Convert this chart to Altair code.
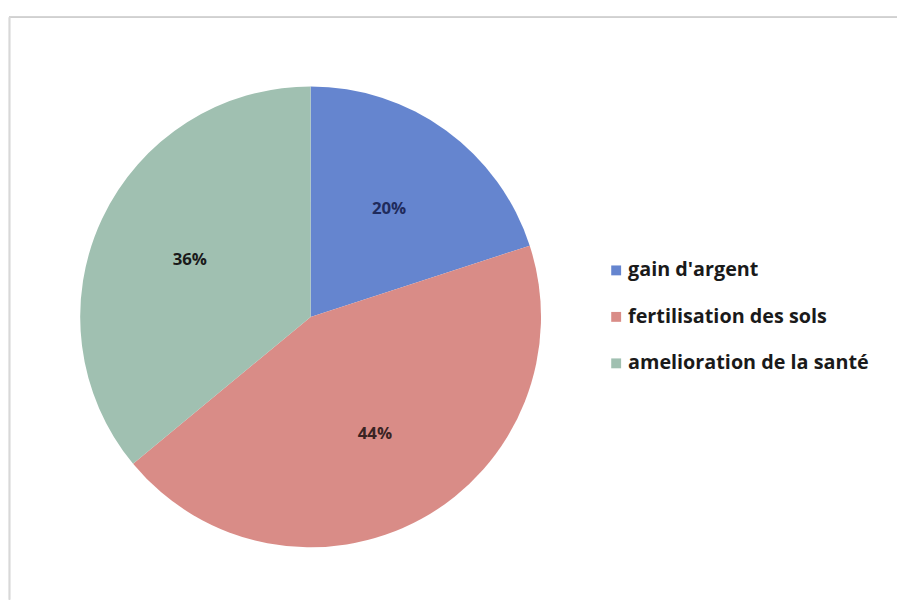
import altair as alt
import pandas as pd

categories = ["gain d'argent", "fertilisation des sols", "amelioration de la santé"]
values = [20, 44, 36]
labels = ["20%", "44%", "36%"]
order = [1, 2, 3]

slice_colors = ["#6585cf", "#d98c87", "#a0c0b1"]
label_colors = ["#1f2b5c", "#3a2424", "#1a1a1a"]

df = pd.DataFrame({"cat": categories, "val": values, "lab": labels, "ord": order})

CX, CY, R = 305, 309, 233

base = alt.Chart(df).encode(
    theta=alt.Theta("val:Q", stack=True),
    order=alt.Order("ord:Q"),
)

pie = base.mark_arc(outerRadius=R, stroke=None).encode(
    x=alt.value(CX),
    y=alt.value(CY),
    color=alt.Color(
        "cat:N",
        scale=alt.Scale(domain=categories, range=slice_colors),
        sort=categories,
        legend=alt.Legend(
            title=None,
            orient="none",
            legendX=604,
            legendY=252,
            symbolType="square",
            symbolSize=100,
            symbolStrokeWidth=0,
            labelFont="Open Sans",
            labelFontSize=20,
            labelFontWeight="bold",
            labelColor="#1a1a1a",
            labelOffset=2,
            rowPadding=27,
            labelLimit=400,
        ),
    ),
)

text = base.mark_text(
    radius=135, font="Open Sans", fontSize=17, fontWeight="bold"
).encode(
    x=alt.value(CX),
    y=alt.value(CY),
    text="lab:N",
    color=alt.Color("cat:N", scale=alt.Scale(domain=categories, range=label_colors), legend=None),
)

frame_top = alt.Chart(df).mark_rule(color="#d0d0d0", strokeWidth=1.5).encode(
    x=alt.value(0), x2=alt.value(898), y=alt.value(6)
)
frame_left = alt.Chart(df).mark_rule(color="#d8d8d8", strokeWidth=1.5).encode(
    x=alt.value(0.5), y=alt.value(6), y2=alt.value(595)
)

chart = (
    alt.layer(frame_top, frame_left, pie, text)
    .resolve_scale(color="independent")
    .properties(width=890, height=595, padding=0, background="white")
    .configure_view(stroke=None)
)

chart.save("out.html", embed_options={"renderer": "svg", "actions": False})
